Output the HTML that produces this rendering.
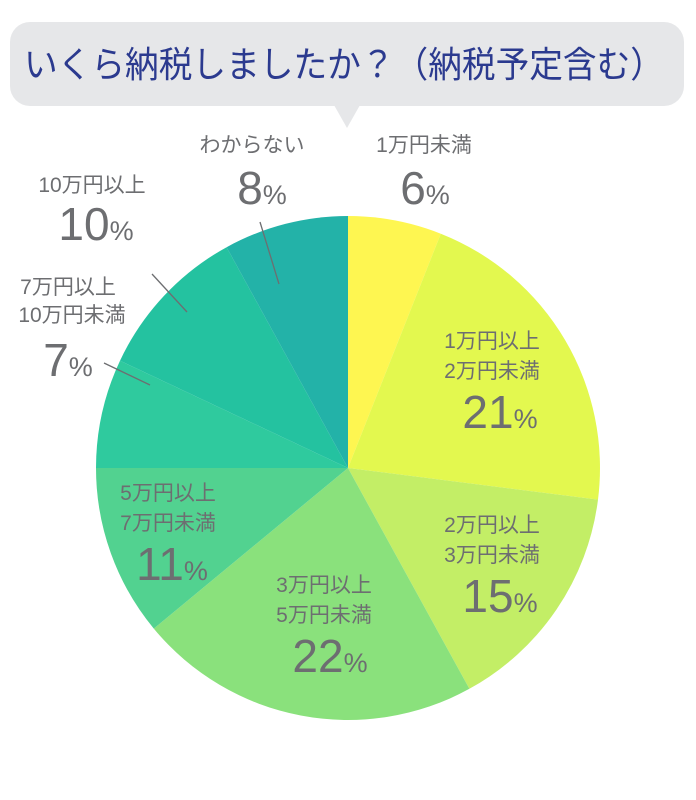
<!DOCTYPE html>
<html><head><meta charset="utf-8"><style>
body{margin:0;background:#fff;}
svg{display:block;font-family:"Liberation Sans","Noto Sans CJK JP",sans-serif;}
.s{font-size:21px;fill:#6d6e71;text-anchor:middle;}
.b{font-size:46px;fill:#6d6e71;text-anchor:middle;}
.b tspan{font-size:27px;}
</style></head><body>
<svg width="696" height="800" viewBox="0 0 696 800">
<rect x="10" y="22" width="674" height="84" rx="20" fill="#e6e7e9"/>
<polygon points="334,105 360,105 347,128" fill="#e6e7e9"/>
<text x="24" y="77" font-size="36" fill="#2b3a8f" textLength="640" lengthAdjust="spacingAndGlyphs">いくら納税しましたか？（納税予定含む）</text>
<path d="M348,468 L348,216 A252,252 0 0 1 440.8,233.7Z" fill="#fef651"/>
<path d="M348,468 L440.8,233.7 A252,252 0 0 1 598,499.6Z" fill="#e3f84f"/>
<path d="M348,468 L598,499.6 A252,252 0 0 1 469.4,688.8Z" fill="#c3ee66"/>
<path d="M348,468 L469.4,688.8 A252,252 0 0 1 153.8,628.6Z" fill="#8ae17c"/>
<path d="M348,468 L153.8,628.6 A252,252 0 0 1 96,468Z" fill="#52d290"/>
<path d="M348,468 L96,468 A252,252 0 0 1 120,360.7Z" fill="#2fca9e"/>
<path d="M348,468 L120,360.7 A252,252 0 0 1 226.6,247.2Z" fill="#24c2a0"/>
<path d="M348,468 L226.6,247.2 A252,252 0 0 1 348,216Z" fill="#23b2a8"/>
<g stroke="#6d6e71" stroke-width="1.3">
<line x1="260" y1="222" x2="279" y2="284"/>
<line x1="152" y1="274" x2="187" y2="312"/>
<line x1="104" y1="363" x2="150" y2="385"/>
</g>
<text class="s" x="252" y="152">わからない</text>
<text class="b" x="262" y="204">8<tspan>%</tspan></text>
<text class="s" x="424" y="152">1万円未満</text>
<text class="b" x="425" y="204">6<tspan>%</tspan></text>
<text class="s" x="92" y="192">10万円以上</text>
<text class="b" x="96" y="240">10<tspan>%</tspan></text>
<text class="s" x="68" y="294">7万円以上</text>
<text class="s" x="72" y="322">10万円未満</text>
<text class="b" x="68" y="376">7<tspan>%</tspan></text>
<text class="s" x="492" y="348">1万円以上</text>
<text class="s" x="492" y="378">2万円未満</text>
<text class="b" x="500" y="428">21<tspan>%</tspan></text>
<text class="s" x="492" y="532">2万円以上</text>
<text class="s" x="492" y="562">3万円未満</text>
<text class="b" x="500" y="612">15<tspan>%</tspan></text>
<text class="s" x="168" y="500">5万円以上</text>
<text class="s" x="168" y="530">7万円未満</text>
<text class="b" x="172" y="580">11<tspan>%</tspan></text>
<text class="s" x="324" y="592">3万円以上</text>
<text class="s" x="324" y="622">5万円未満</text>
<text class="b" x="330" y="672">22<tspan>%</tspan></text>
</svg>
</body></html>
